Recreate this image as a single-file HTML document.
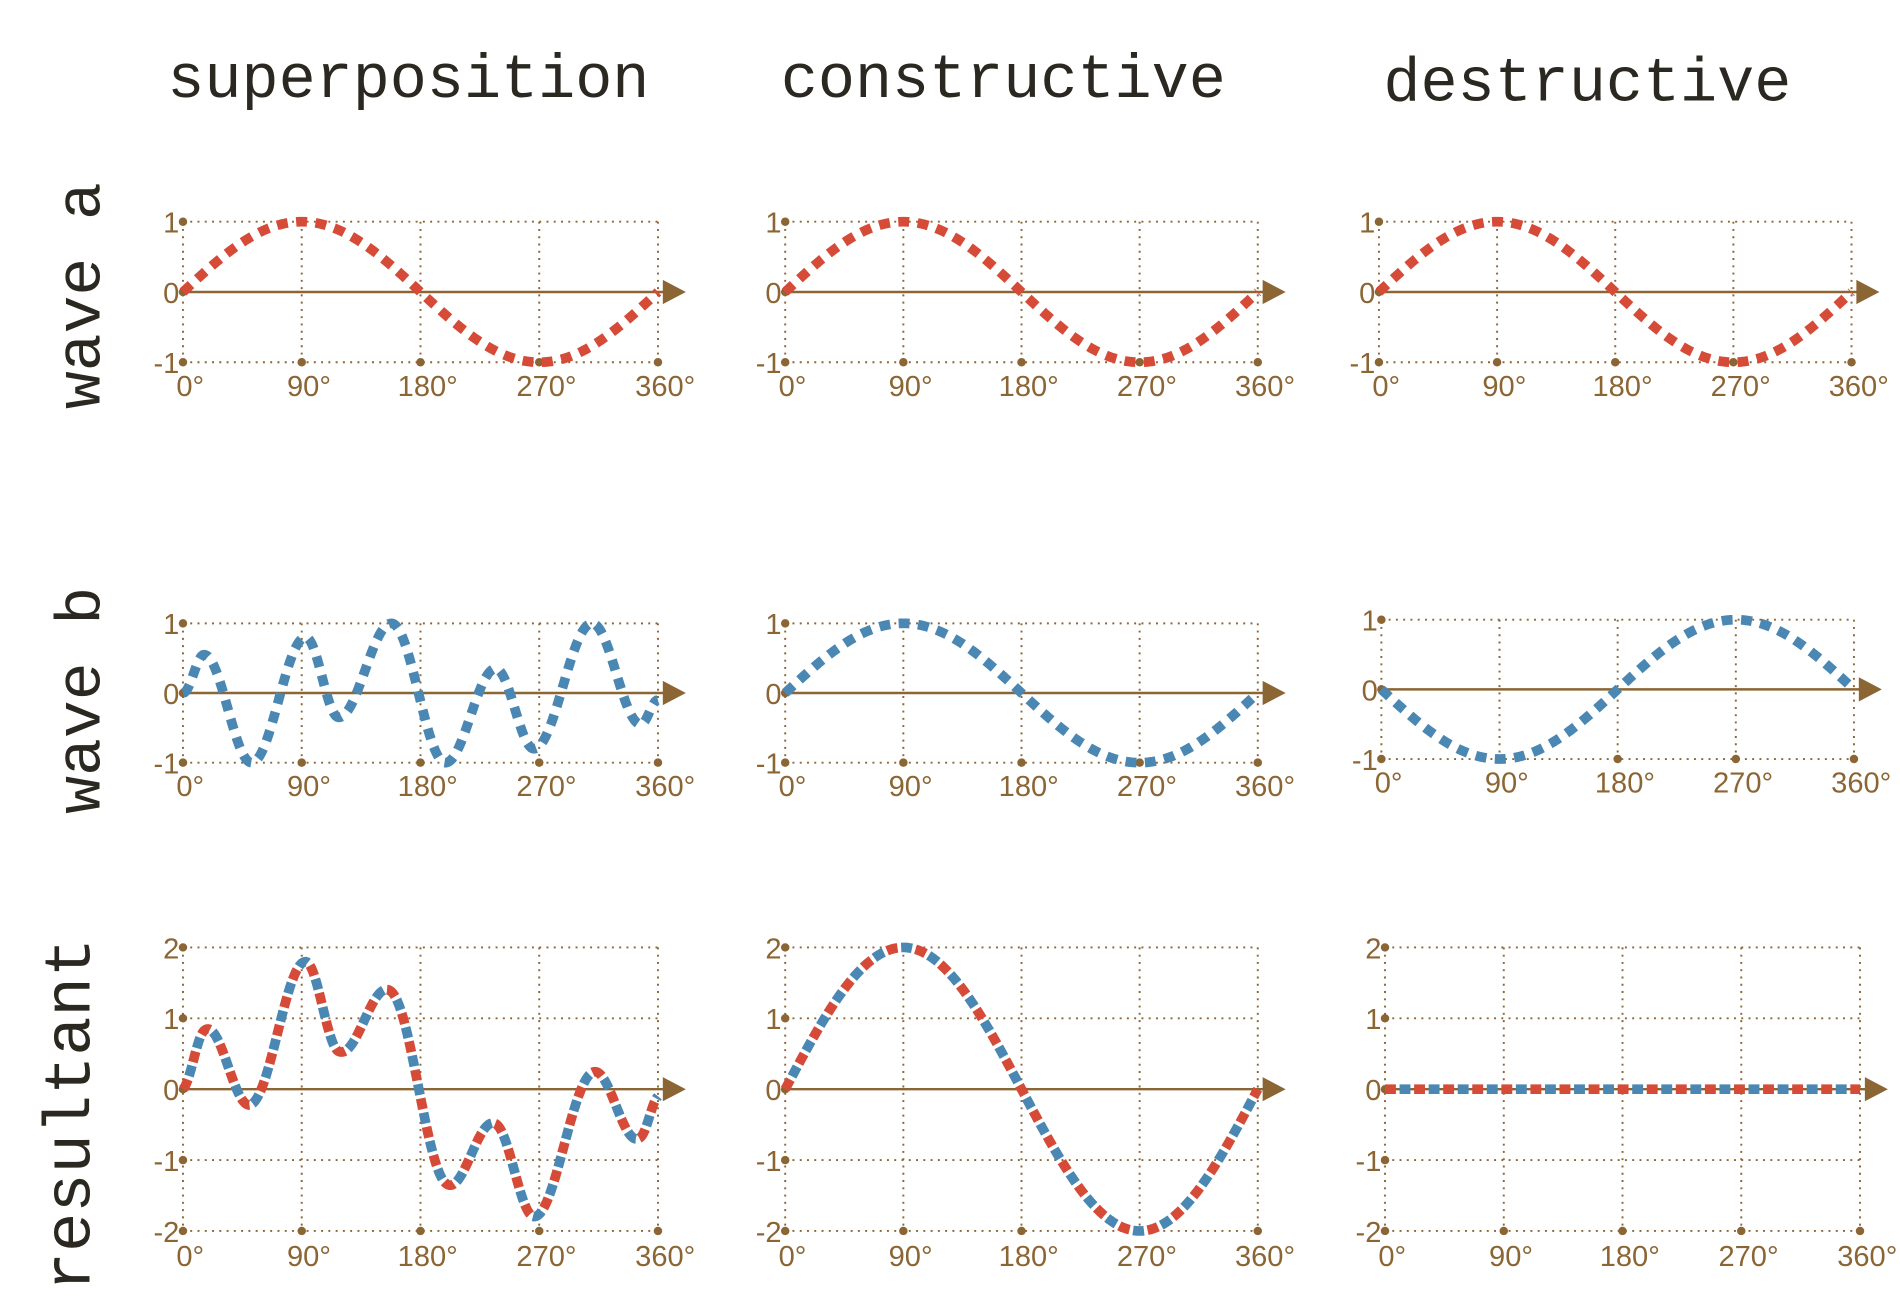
<!DOCTYPE html>
<html><head><meta charset="utf-8">
<style>
html,body{margin:0;padding:0;background:#fff;width:1900px;height:1300px;overflow:hidden}
svg{display:block}
</style></head>
<body>
<svg id="s" width="1900" height="1300" viewBox="0 0 1568 1073" preserveAspectRatio="none" xmlns="http://www.w3.org/2000/svg"></svg>
<script>
const S=document.getElementById('s');
const B='#8b6534',R='#d64b37',U='#4a87b3';
let h='';
function t(x,y,s,txt,opt){opt=opt||'';h+=`<text x="${x}" y="${y}" font-size="${s}" ${opt}>${txt}</text>`;}
const mono='font-family="Liberation Mono, DejaVu Sans Mono, monospace" fill="#2a2820"';
t(337,80,51,'superposition',mono+' text-anchor="middle"');
t(828,80,51,'constructive',mono+' text-anchor="middle"');
t(1310,83,51,'destructive',mono+' text-anchor="middle"');
t(0,0,52,'wave  a',mono+' text-anchor="middle" transform="translate(82,244) rotate(-90)"');
t(0,0,52,'wave  b',mono+' text-anchor="middle" transform="translate(82,578) rotate(-90)"');
t(0,0,54,'resultant',mono+' text-anchor="middle" transform="translate(74,920) rotate(-90)"');
const pts=[[0,0],[16,0.55],[52,-1],[93,0.8],[118,-0.35],[158,1],[199,-1],[237,0.35],[266,-0.8],[310,1],[347,-0.45],[360,-0.1]];
function bsup(d){
  let i=0;while(i<pts.length-2&&d>pts[i+1][0])i++;
  const p0=pts[i],p1=pts[i+1];const u=(d-p0[0])/(p1[0]-p0[0]);
  const s=(1-Math.cos(Math.PI*u))/2;return p0[1]+(p1[1]-p0[1])*s;
}
const sin=d=>Math.sin(d*Math.PI/180);
function panel(x0,x1,y0,unit,levels,lbly,fns,mode){
  const X=d=>x0+(x1-x0)*d/360;
  const ys=levels.map(l=>y0-l*unit);
  const top=Math.min(...ys),bot=Math.max(...ys);
  for(let k=0;k<=4;k++){const x=X(k*90);h+=`<line x1="${x}" y1="${top}" x2="${x}" y2="${bot}" stroke="${B}" stroke-width="1.6" stroke-dasharray="1.6 4.4"/>`;}
  levels.forEach(l=>{if(l!==0){const y=y0-l*unit;h+=`<line x1="${x0}" y1="${y}" x2="${x1}" y2="${y}" stroke="${B}" stroke-width="1.6" stroke-dasharray="1.6 4.4"/>`;}});
  levels.forEach(l=>{const y=y0-l*unit;h+=`<circle cx="${x0}" cy="${y}" r="3.5" fill="${B}"/>`;
    t(x0-3,y+9,24,String(l),`font-family="Liberation Sans Narrow, Liberation Sans, sans-serif" fill="${B}" text-anchor="end"`);});
  for(let k=1;k<=4;k++)h+=`<circle cx="${X(k*90)}" cy="${bot}" r="3.5" fill="${B}"/>`;
  h+=`<line x1="${x0}" y1="${y0}" x2="${x1+6}" y2="${y0}" stroke="${B}" stroke-width="2"/>`;
  h+=`<polygon points="${x1+4},${y0-10} ${x1+23},${y0} ${x1+4},${y0+10}" fill="${B}"/>`;
  ['0°','90°','180°','270°','360°'].forEach((s,k)=>t(X(k*90)+6,lbly,24,s,`font-family="Liberation Sans Narrow, Liberation Sans, sans-serif" fill="${B}" text-anchor="middle"`));
  let d='';for(let a=0;a<=360;a+=1){const v=fns(a);d+=(a?'L':'M')+X(a).toFixed(2)+' '+(y0-v*unit).toFixed(2);}
  if(mode==='R'||mode==='U'){h+=`<path d="${d}" fill="none" stroke="${mode==='R'?R:U}" stroke-width="8" stroke-dasharray="9 7"/>`;}
  else{h+=`<path d="${d}" fill="none" stroke="${R}" stroke-width="8" stroke-dasharray="9 15"/>`;
       h+=`<path d="${d}" fill="none" stroke="${U}" stroke-width="8" stroke-dasharray="9 15" stroke-dashoffset="12"/>`;}
}
const cols=[[151,543],[648,1038],[1138,1528]];
cols.forEach(c=>panel(c[0],c[1],241,58,[1,0,-1],327,sin,'R'));
panel(151,543,572,57.5,[1,0,-1],657,bsup,'U');
panel(648,1038,572,57.5,[1,0,-1],657,sin,'U');
panel(1140,1530,569,57.5,[1,0,-1],654,d=>-sin(d),'U');
panel(151,543,899,58.5,[2,1,0,-1,-2],1045,d=>sin(d)+bsup(d),'RU');
panel(648,1038,899,58.5,[2,1,0,-1,-2],1045,d=>2*sin(d),'RU');
panel(1143,1535,899,58.5,[2,1,0,-1,-2],1045,d=>0,'RU');
S.innerHTML=h;
</script>
</body></html>
